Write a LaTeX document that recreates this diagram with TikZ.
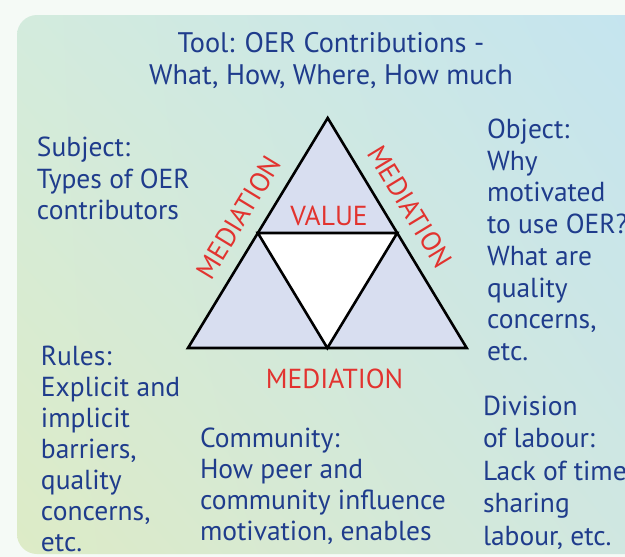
\documentclass[tikz,border=0pt]{standalone}
\usepackage{fontspec}
\setmainfont{PT Sans}
\usetikzlibrary{positioning,calc,shadings}

\definecolor{oerblue}{HTML}{1F3C8C}
\definecolor{oerred}{HTML}{E2332F}
\definecolor{trifill}{HTML}{D8DEF0}
\definecolor{pagebg}{HTML}{F5FAF6}
\definecolor{panelTL}{HTML}{D3EBDD}
\definecolor{panelTR}{HTML}{C4E4F0}
\definecolor{panelBL}{HTML}{DDEBC6}
\definecolor{panelBR}{HTML}{CFE7E2}

\begin{document}
\begin{tikzpicture}[
    x=1pt, y=-1pt,
    every node/.style={inner sep=0pt, outer sep=0pt},
    blocktext/.style={
        anchor=north west,
        align=left,
        text=oerblue,
        font=\fontsize{27.5}{#1}\selectfont
    },
    blocktext/.default=31.5,
    medtext/.style={
        text=oerred,
        font=\fontsize{27.5}{31.5}\selectfont
    },
    triedge/.style={line width=2.6pt, line join=miter}
]
\useasboundingbox (0,0) rectangle (625,557);
\clip (0,0) rectangle (625,557);

% page and panel
\fill[pagebg] (0,0) rectangle (625,557);
\shade[rounded corners=20pt,
    upper left=panelTL, upper right=panelTR,
    lower left=panelBL, lower right=panelBR]
    (17,15) rectangle (660,554);

% triangle
\coordinate (apex) at (327.7,118);
\coordinate (bl) at (188,348);
\coordinate (br) at (466.7,348);
\coordinate (ml) at ($(apex)!0.5!(bl)$);
\coordinate (mr) at ($(apex)!0.5!(br)$);
\coordinate (mb) at ($(bl)!0.5!(br)$);
\filldraw[triedge, fill=trifill] (apex) -- (br) -- (bl) -- cycle;
\filldraw[triedge, fill=white] (ml) -- (mr) -- (mb) -- cycle;

% red labels
\node[medtext] (value) at (329,216) {VALUE};
\node[medtext, rotate=58.7] (medleft) at (238.5,217.5) {MEDIATION};
\node[medtext, rotate=-58.7] (medright) at (410,207) {MEDIATION};
\node[medtext] (medbottom) at (334.5,379) {MEDIATION};

% text blocks
\node[blocktext=32, anchor=north, align=center,
    font=\fontsize{28.3}{32}\selectfont] (title) at (331,32)
    {Tool: OER Contributions -\\What, How, Where, How much};
\node[blocktext] (subject) at (37,137)
    {Subject:\\Types of OER\\contributors};
\node[blocktext=31.7] (object) at (487,119)
    {Object:\\Why\\motivated\\to use OER?\\What are\\quality\\concerns,\\etc.};
\node[blocktext=31] (rules) at (41,346)
    {Rules:\\Explicit and\\implicit\\barriers,\\quality\\concerns,\\etc.};
\node[blocktext=31] (community) at (200,428)
    {Community:\\How peer and\\community influence\\motivation, enables};
\node[blocktext=32.5] (division) at (483,396)
    {Division\\of labour:\\Lack of time\\sharing\\labour, etc.};
\end{tikzpicture}
\end{document}
